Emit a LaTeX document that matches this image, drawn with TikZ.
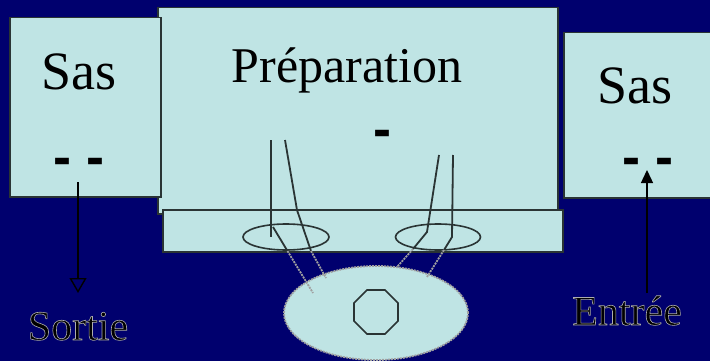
\documentclass[tikz,border=0pt]{standalone}
\usepackage{fontspec}
\setmainfont{Liberation Serif}
\newfontfamily\dashfont{Liberation Sans}
\usetikzlibrary{arrows.meta,shapes.geometric}
\definecolor{navy}{HTML}{00006E}
\definecolor{pale}{HTML}{BFE4E4}
\definecolor{edge}{HTML}{2A3434}
\definecolor{halo}{HTML}{A0A0A0}
\newcommand{\outlinedtext}[1]{\special{pdf:literal direct 2 Tr 0.6 w 0.68 0.68 0.68 RG}#1\special{pdf:literal direct 0 Tr}}
\tikzset{
  box/.style={draw=edge, fill=pale, line width=1.5pt, inner sep=0pt, anchor=north west},
  bigtxt/.style={inner sep=0pt, anchor=base, font=\fontsize{54}{60}\selectfont},
  preptxt/.style={inner sep=0pt, anchor=base, font=\fontsize{50}{56}\selectfont},
  dashtxt/.style={inner sep=0pt, anchor=base, font=\dashfont\bfseries\fontsize{54}{60}\selectfont},
  lowtxt/.style={inner sep=0pt, anchor=base, text=black, font=\fontsize{42}{48}\selectfont},
  tube/.style={draw=edge, line width=1.8pt},
  tubeout/.style={draw=halo, line width=1.8pt, dash pattern=on 2pt off 1pt},
  ring/.style={draw=edge, line width=1.6pt},
}
\begin{document}
\begin{tikzpicture}[x=1pt,y=-1pt]
\useasboundingbox (0,0) rectangle (710,361);
\fill[navy] (0,0) rectangle (710,361);
% boxes
\node[box, minimum width=400pt, minimum height=206pt] (prep) at (157,7) {};
\node[box, minimum width=400pt, minimum height=42pt] (strip) at (162,209) {};
\node[box, minimum width=151pt, minimum height=179pt] (sasL) at (9,17) {};
\node[box, minimum width=160pt, minimum height=165pt] (sasR) at (563,32) {};
% texts
\node[bigtxt] (sasLt) at (79,89) {Sas};
\node[bigtxt] (sasRt) at (635,103) {Sas};
\node[preptxt] (prept) at (347,82) {Préparation};
\node[dashtxt] (dashL) at (79,175) {- -};
\node[dashtxt] (dashR) at (648,175) {- -};
\node[dashtxt] (dashP) at (382,147) {-};
% small rings
\node[ring, ellipse, minimum width=86pt, minimum height=26pt, inner sep=0pt] (ringL) at (286,237) {};
\node[ring, ellipse, minimum width=85pt, minimum height=26pt, inner sep=0pt] (ringR) at (438,237) {};
% big ellipse
\node[draw=halo, fill=pale, line width=1.8pt, dash pattern=on 2pt off 1pt, ellipse, minimum width=184pt, minimum height=94pt, inner sep=0pt] (pot) at (376,313) {};
\node[draw=edge, line width=1.6pt, regular polygon, regular polygon sides=8, minimum size=47.6pt, inner sep=0pt] (oct) at (376,312) {};
% tubes
\coordinate (l1a) at (271,140); \coordinate (l1b) at (271,237);
\coordinate (l1c) at (273,227); \coordinate (l1d) at (287.5,251); \coordinate (l1e) at (313,293);
\coordinate (l2a) at (285,140); \coordinate (l2b) at (297,210); \coordinate (l2c) at (311,251); \coordinate (l2d) at (326,278);
\coordinate (r1a) at (439,155); \coordinate (r1b) at (427,232); \coordinate (r1c) at (413,249); \coordinate (r1d) at (397,267);
\coordinate (r2a) at (453,155); \coordinate (r2b) at (452,237); \coordinate (r2c) at (444,250); \coordinate (r2d) at (427,277);
\draw[tube] (l1a) -- (l1b);
\draw[tube] (l1c) -- (l1d);
\draw[tubeout] (l1d) -- (l1e);
\draw[tube] (l2a) -- (l2b) -- (l2c);
\draw[tubeout] (l2c) -- (l2d);
\draw[tube] (r1a) -- (r1b) -- (r1c);
\draw[tubeout] (r1c) -- (r1d);
\draw[tube] (r2a) -- (r2b) -- (r2c);
\draw[tubeout] (r2c) -- (r2d);
% lower labels
\node[lowtxt] (sortie) at (78,340) {\outlinedtext{Sortie}};
\node[lowtxt] (entree) at (627,325) {\outlinedtext{Entrée}};
% arrows
\coordinate (aLs) at (78,182); \coordinate (aLe) at (78,293);
\coordinate (aRs) at (647,293); \coordinate (aRe) at (647,170);
\draw[line width=1.4pt, -{Triangle[open, length=15pt, width=17pt]}] (aLs) -- (aLe);
\draw[line width=1.4pt, -{Triangle[length=13pt, width=12pt]}] (aRs) -- (aRe);
\end{tikzpicture}
\end{document}
